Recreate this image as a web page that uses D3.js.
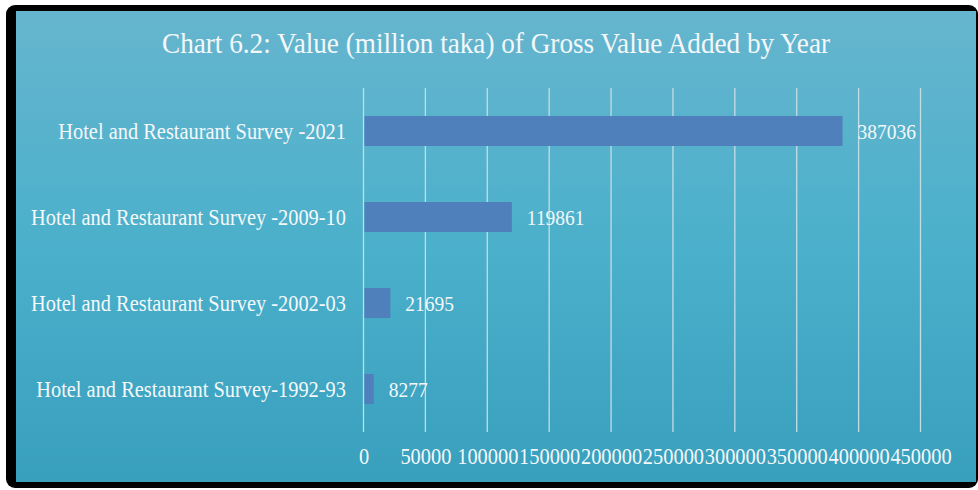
<!DOCTYPE html>
<html>
<head>
<meta charset="utf-8">
<script src="https://cdn.jsdelivr.net/npm/d3@7"></script>
<style>
body { margin: 0; background: #fff; }
svg text { font-family: "Liberation Serif", "Times New Roman", serif; fill: #f4f8fa; }
</style>
</head>
<body>
<div id="chart"></div>
<script>
// data
var categories = [
	"Hotel and Restaurant Survey -2021",
	"Hotel and Restaurant Survey -2009-10",
	"Hotel and Restaurant Survey -2002-03",
	"Hotel and Restaurant Survey-1992-93"
];
var values = [387036, 119861, 21695, 8277];
var tickValues = [0, 50000, 100000, 150000, 200000, 250000, 300000, 350000, 400000, 450000];
var title = "Chart 6.2: Value (million taka) of Gross Value Added by Year";

var svgWidth = 978, svgHeight = 490;
var margin = {top: 88, right: 57, bottom: 58, left: 363.5};
var width = 920.5 - margin.left,
	height = 432 - margin.top;

var svg = d3.select("#chart")
	.append("svg")
		.attr("width", svgWidth)
		.attr("height", svgHeight);

// background gradient
var grad = svg.append("defs").append("linearGradient")
	.attr("id", "bg")
	.attr("x1", 0).attr("y1", 0).attr("x2", 0).attr("y2", 1);
grad.append("stop").attr("offset", "0%").attr("stop-color", "#66b5ce");
grad.append("stop").attr("offset", "50%").attr("stop-color", "#4bb0cb");
grad.append("stop").attr("offset", "100%").attr("stop-color", "#389fbd");

svg.append("rect")
	.attr("x", 6).attr("y", 5)
	.attr("width", 972).attr("height", 483)
	.attr("rx", 9)
	.attr("fill", "#000");
svg.append("rect")
	.attr("x", 16).attr("y", 11)
	.attr("width", 960).attr("height", 471)
	.attr("fill", "url(#bg)");

svg.append("text")
	.attr("transform", "translate(496,53) scale(1,1.05)")
	.attr("text-anchor", "middle")
	.style("font-size", "27.2px")
	.text(title);

var g = svg.append("g")
	.attr("transform", `translate(${margin.left},${margin.top})`);

var x = d3.scaleLinear()
	.domain([0, 450000])
	.range([0, width]);

var y = d3.scaleBand()
	.domain(categories)
	.range([0, height])
	.padding(0);

// gridlines
g.selectAll(".grid")
	.data(tickValues)
	.enter().append("line")
		.attr("x1", d => x(d)).attr("x2", d => x(d))
		.attr("y1", 0).attr("y2", height)
		.attr("stroke", "#c4dde5")
		.attr("stroke-width", 1.3);

var barH = 30;
g.selectAll(".bar")
	.data(values)
	.enter().append("rect")
		.attr("x", x(0) + 1)
		.attr("y", (d, i) => y(categories[i]) + y.bandwidth() / 2 - barH / 2)
		.attr("width", d => x(d) - x(0) - 1)
		.attr("height", barH)
		.attr("fill", "#4f80bc");

// value labels (text in the picture is a bit taller than plain Times)
g.selectAll(".val")
	.data(values)
	.enter().append("text")
		.attr("transform", (d, i) => `translate(${x(d) + 15},${y(categories[i]) + y.bandwidth() / 2 + 8}) scale(1,1.1)`)
		.style("font-size", "19.5px")
		.text(d => d);

// category labels
g.selectAll(".cat")
	.data(categories)
	.enter().append("text")
		.attr("transform", d => `translate(-17.5,${y(d) + y.bandwidth() / 2 + 7.5}) scale(1,1.1)`)
		.attr("text-anchor", "end")
		.style("font-size", "20.4px")
		.text(d => d);

// x axis labels
var xAxis = g.append("g")
	.attr("transform", `translate(0, ${height})`)
	.call(d3.axisBottom(x).tickValues(tickValues).tickSize(0).tickPadding(0).tickFormat(d3.format("d")));
xAxis.select(".domain").remove();
xAxis.selectAll("text")
	.attr("y", 0)
	.attr("dy", 0)
	.attr("fill", null)
	.attr("transform", "translate(0,31.5) scale(1,1.1)")
	.style("font-size", "20.4px")
	.style("font-family", "Liberation Serif, serif");
</script>
</body>
</html>
